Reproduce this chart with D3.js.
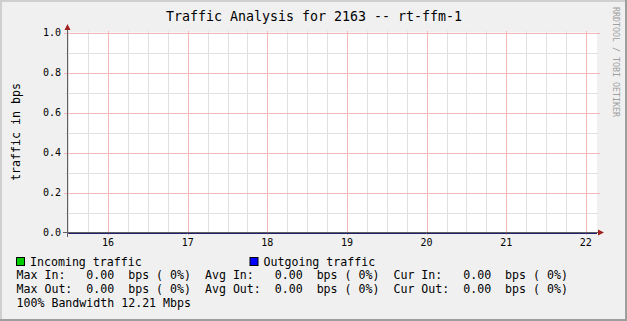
<!DOCTYPE html>
<html>
<head>
<meta charset="utf-8">
<script src="https://cdn.jsdelivr.net/npm/d3@7"></script>
<style>
  body { margin: 0; background: #fff; }
  text { font-family: "DejaVu Sans Mono", monospace; }
</style>
</head>
<body>
<div id="body"></div>
<script>
var title = "Traffic Analysis for 2163 -- rt-ffm-1";
var hours = [15.5, 16, 17, 18, 19, 20, 21, 22, 22.14];
var incoming = [0, 0, 0, 0, 0, 0, 0, 0, 0];
var outgoing = [0, 0, 0, 0, 0, 0, 0, 0, 0];
var xTicks = [16, 17, 18, 19, 20, 21, 22];
var yTicks = [0.0, 0.2, 0.4, 0.6, 0.8, 1.0];
var legendRows = [
  "Max In:   0.00  bps ( 0%)  Avg In:   0.00  bps ( 0%)  Cur In:   0.00  bps ( 0%)",
  "Max Out:  0.00  bps ( 0%)  Avg Out:  0.00  bps ( 0%)  Cur Out:  0.00  bps ( 0%)",
  "100% Bandwidth 12.21 Mbps"
];

var width = 627, height = 321;

var svg = d3.select("#body")
  .append("svg")
  .attr("width", width)
  .attr("height", height);

// frame
svg.append("rect").attr("width", width).attr("height", height).attr("fill", "#f0f0f0");
svg.append("path").attr("d", "M1,321V1H627").attr("fill", "none").attr("stroke", "#cfcfcf").attr("stroke-width", 2);
svg.append("path").attr("d", "M0,320H626V0").attr("fill", "none").attr("stroke", "#9e9e9e").attr("stroke-width", 2);

var x = d3.scaleLinear().domain([15.49, 22.14]).range([67.5, 597]);
var y = d3.scaleLinear().domain([0, 1]).range([232.5, 32.5]);

svg.append("rect")
  .attr("x", 67.5).attr("y", 32.5)
  .attr("width", 597 - 67.5).attr("height", 200)
  .attr("fill", "#fff");

// minor grid
var xMinor = d3.range(15.5, 22.14, 0.25).filter(function(d) { return d % 1 !== 0; });
svg.append("g").selectAll("line")
  .data(xMinor).enter().append("line")
  .attr("x1", function(d) { return Math.round(x(d)) + 0.5; })
  .attr("x2", function(d) { return Math.round(x(d)) + 0.5; })
  .attr("y1", 31).attr("y2", 233)
  .attr("stroke", "#e0e0e0");

var yMinor = [0.1, 0.3, 0.5, 0.7, 0.9];
svg.append("g").selectAll("line")
  .data(yMinor).enter().append("line")
  .attr("x1", 65).attr("x2", 598)
  .attr("y1", function(d) { return Math.round(y(d)) + 0.5; })
  .attr("y2", function(d) { return Math.round(y(d)) + 0.5; })
  .attr("stroke", "#e0e0e0");

// major grid
svg.append("g").selectAll("line")
  .data(xTicks).enter().append("line")
  .attr("x1", function(d) { return Math.round(x(d)) + 0.5; })
  .attr("x2", function(d) { return Math.round(x(d)) + 0.5; })
  .attr("y1", 31).attr("y2", 235)
  .attr("stroke", "#f2b8b8");

svg.append("g").selectAll("line")
  .data(yTicks.slice(1)).enter().append("line")
  .attr("x1", 64).attr("x2", 600)
  .attr("y1", function(d) { return Math.round(y(d)) + 0.5; })
  .attr("y2", function(d) { return Math.round(y(d)) + 0.5; })
  .attr("stroke", "#f2b8b8");

// data
svg.append("path")
  .datum(hours)
  .attr("fill", "#00cc00")
  .attr("d", d3.area()
    .x(function(d) { return x(d); })
    .y0(y(0))
    .y1(function(d, i) { return y(incoming[i]); }));

// axes
svg.append("line")
  .attr("x1", 67.5).attr("x2", 67.5).attr("y1", 28).attr("y2", 237)
  .attr("stroke", "#606060");
svg.append("line")
  .attr("x1", 63).attr("x2", 599).attr("y1", 232.5).attr("y2", 232.5)
  .attr("stroke", "#606060");

svg.append("path")
  .datum(hours)
  .attr("fill", "none")
  .attr("stroke", "#202070")
  .attr("d", d3.line()
    .x(function(d) { return x(d); })
    .y(function(d, i) { return Math.round(y(outgoing[i])) + 0.5; }));

svg.append("path").attr("d", "M64.5,30L67.5,24L70.5,30Z").attr("fill", "#a02020");
svg.append("path").attr("d", "M598,229.5L604,232.5L598,235.5Z").attr("fill", "#a02020");

// tick labels
svg.append("g").selectAll("text")
  .data(xTicks).enter().append("text")
  .attr("x", function(d) { return x(d); })
  .attr("y", 246)
  .attr("text-anchor", "middle")
  .attr("font-size", 10)
  .attr("fill", "#000")
  .text(function(d) { return d; });

svg.append("g").selectAll("text")
  .data(yTicks).enter().append("text")
  .attr("x", 61)
  .attr("y", function(d) { return y(d); })
  .attr("dy", "0.35em")
  .attr("text-anchor", "end")
  .attr("font-size", 10)
  .attr("fill", "#000")
  .text(d3.format(".1f"));

// title and labels
svg.append("text")
  .attr("x", 314).attr("y", 21)
  .attr("text-anchor", "middle")
  .attr("font-size", 13.3)
  .text(title);

svg.append("text")
  .attr("transform", "translate(20,132) rotate(-90)")
  .attr("text-anchor", "middle")
  .attr("font-size", 11.6)
  .text("traffic in bps");

svg.append("text")
  .attr("transform", "translate(613,62) rotate(90)")
  .attr("text-anchor", "middle")
  .attr("font-size", 8.3)
  .attr("fill", "#a0a0a0")
  .text("RRDTOOL / TOBI OETIKER");

// legend
var legendKeys = [
  { label: "Incoming traffic", color: "#00cc00", x: 16 },
  { label: "Outgoing traffic", color: "#0000ff", x: 249.5 }
];
var key = svg.append("g").selectAll("g")
  .data(legendKeys).enter().append("g")
  .attr("transform", function(d) { return "translate(" + d.x + ",257)"; });
key.append("rect")
  .attr("x", 0.5).attr("y", 0.5).attr("width", 8).attr("height", 8)
  .attr("fill", function(d) { return d.color; })
  .attr("stroke", "#000");
key.append("text")
  .attr("x", 14).attr("y", 8.5)
  .attr("font-size", 11.6)
  .text(function(d) { return d.label; });

svg.append("g").selectAll("text")
  .data(legendRows).enter().append("text")
  .attr("x", 16.5)
  .attr("y", function(d, i) { return 279 + i * 13.8; })
  .attr("font-size", 11.6)
  .attr("xml:space", "preserve")
  .style("white-space", "pre")
  .text(function(d) { return d; });
</script>
</body>
</html>
